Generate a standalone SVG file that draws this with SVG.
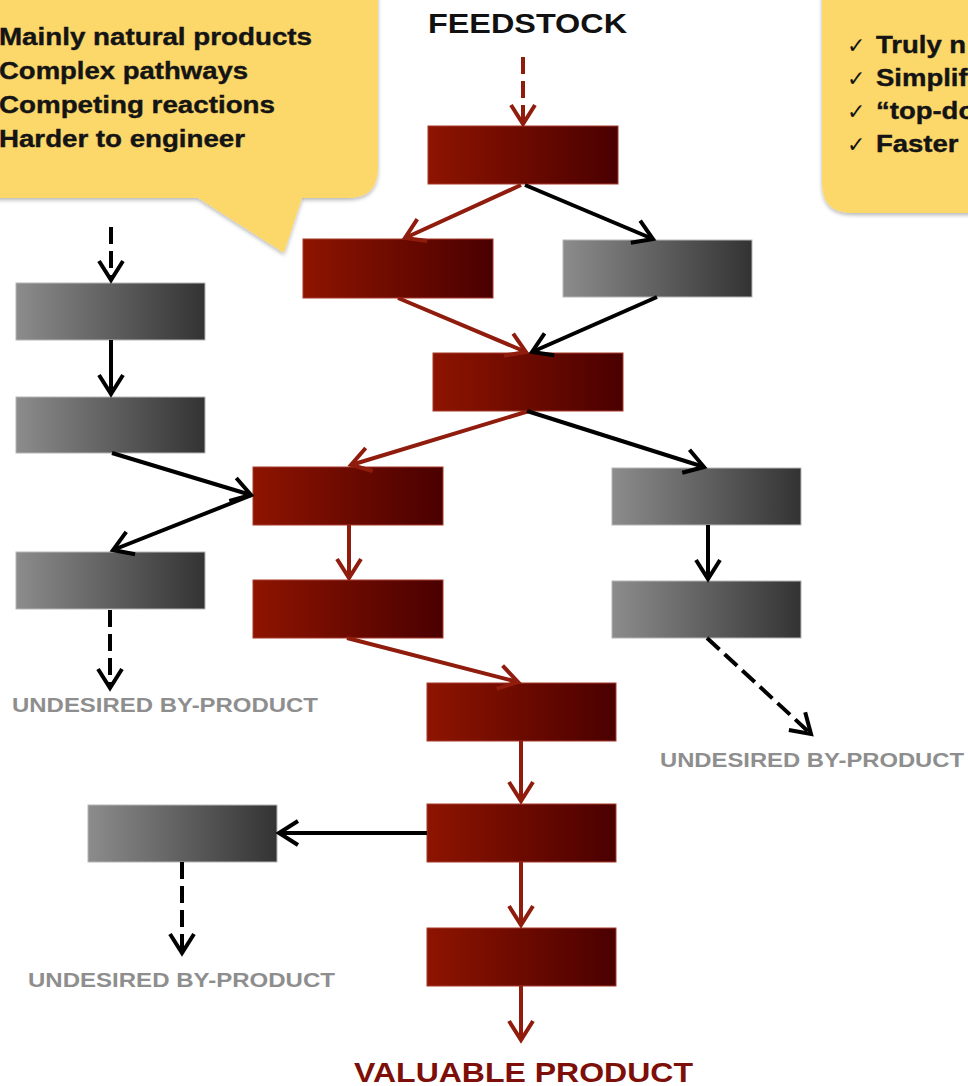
<svg xmlns="http://www.w3.org/2000/svg" width="968" height="1086" viewBox="0 0 968 1086">
<defs>
<linearGradient id="gRed" x1="0" y1="0" x2="1" y2="0">
<stop offset="0" stop-color="#8e1400"/><stop offset="1" stop-color="#4a0000"/>
</linearGradient>
<linearGradient id="gGray" x1="0" y1="0" x2="1" y2="0">
<stop offset="0" stop-color="#8c8c8c"/><stop offset="1" stop-color="#333333"/>
</linearGradient>
<filter id="sh" x="-10%" y="-10%" width="120%" height="130%">
<feGaussianBlur in="SourceAlpha" stdDeviation="2"/>
<feOffset dx="0" dy="2" result="b"/>
<feComponentTransfer><feFuncA type="linear" slope="0.3"/></feComponentTransfer>
<feMerge><feMergeNode/><feMergeNode in="SourceGraphic"/></feMerge>
</filter>
<marker id="aR" markerUnits="userSpaceOnUse" markerWidth="40" markerHeight="40" viewBox="-20 -20 40 40" refX="0" refY="0" orient="auto" overflow="visible">
<path d="M-19,-12 L0,0 L-19,12" fill="none" stroke="#8f1c0c" stroke-width="4"/>
</marker>
<marker id="aK" markerUnits="userSpaceOnUse" markerWidth="40" markerHeight="40" viewBox="-20 -20 40 40" refX="0" refY="0" orient="auto" overflow="visible">
<path d="M-19,-12 L0,0 L-19,12" fill="none" stroke="#000" stroke-width="4"/>
</marker>
</defs>
<style>
.red{fill:url(#gRed);stroke:#a63a2a;stroke-width:1}
.gray{fill:url(#gGray);stroke:#b5b5b5;stroke-width:1}
.cr{fill:none;stroke:#8f1c0c;stroke-width:4;marker-end:url(#aR)}
.ck{fill:none;stroke:#000;stroke-width:4;marker-end:url(#aK)}
.dash{stroke-dasharray:17 7}
.call{fill:#fcd76b;filter:url(#sh)}
.ct{font-family:"Liberation Sans",Arial,sans-serif;font-weight:bold;font-size:23.5px;fill:#141414;stroke:#141414;stroke-width:0.4}
.chk{font-family:"DejaVu Sans",sans-serif;font-size:22px;fill:#141414}
.lab{font-family:"Liberation Sans",Arial,sans-serif;font-weight:bold;font-size:20px;fill:#8e8e8e}
.big{font-family:"Liberation Sans",Arial,sans-serif;font-weight:bold;font-size:28px}
</style>
<rect width="968" height="1086" fill="#ffffff"/>

<g id="callout-left">
<path class="call" d="M-30,-30 H378 V168 Q378,198 348,198 H302 L284,253 L198,198 H-30 Z"/>
<text class="ct" x="-1" y="45" textLength="313" lengthAdjust="spacingAndGlyphs">Mainly natural products</text>
<text class="ct" x="-1" y="79" textLength="249" lengthAdjust="spacingAndGlyphs">Complex pathways</text>
<text class="ct" x="-1" y="113" textLength="276" lengthAdjust="spacingAndGlyphs">Competing reactions</text>
<text class="ct" x="-1" y="147" textLength="246" lengthAdjust="spacingAndGlyphs">Harder to engineer</text>
</g>

<g id="callout-right">
<path class="call" d="M822,-30 H1000 V213 H852 Q822,213 822,183 Z"/>
<text class="chk" x="847" y="53">✓</text>
<text class="ct" transform="translate(876,53) scale(1.17,1)">Truly n</text>
<text class="chk" x="847" y="86">✓</text>
<text class="ct" transform="translate(876,86) scale(1.17,1)">Simplif</text>
<text class="chk" x="847" y="119">✓</text>
<text class="ct" transform="translate(876,119) scale(1.17,1)">“top-do</text>
<text class="chk" x="847" y="152">✓</text>
<text class="ct" transform="translate(876,152) scale(1.17,1)">Faster</text>
</g>

<g id="label-feedstock">
<text class="big" x="428" y="33" textLength="199" lengthAdjust="spacingAndGlyphs" fill="#111">FEEDSTOCK</text>
</g>
<g id="label-valuable">
<text class="big" x="354" y="1082" textLength="339" lengthAdjust="spacingAndGlyphs" fill="#7d0f08">VALUABLE PRODUCT</text>
</g>
<g id="label-undesired-1">
<text class="lab" x="12" y="712" textLength="306" lengthAdjust="spacingAndGlyphs">UNDESIRED BY-PRODUCT</text>
</g>
<g id="label-undesired-2">
<text class="lab" x="660" y="767" textLength="304" lengthAdjust="spacingAndGlyphs">UNDESIRED BY-PRODUCT</text>
</g>
<g id="label-undesired-3">
<text class="lab" x="28" y="987" textLength="307" lengthAdjust="spacingAndGlyphs">UNDESIRED BY-PRODUCT</text>
</g>

<g id="r1"><rect class="red" x="428" y="126" width="190" height="58"/></g>
<g id="r2"><rect class="red" x="303" y="239" width="190" height="59"/></g>
<g id="g1"><rect class="gray" x="563" y="240" width="189" height="57"/></g>
<g id="r3"><rect class="red" x="433" y="353" width="190" height="58"/></g>
<g id="g2"><rect class="gray" x="16" y="283" width="189" height="57"/></g>
<g id="g3"><rect class="gray" x="16" y="397" width="189" height="56"/></g>
<g id="r4"><rect class="red" x="253" y="467" width="190" height="58"/></g>
<g id="g5"><rect class="gray" x="612" y="468" width="189" height="57"/></g>
<g id="g4"><rect class="gray" x="16" y="552" width="189" height="57"/></g>
<g id="r5"><rect class="red" x="253" y="580" width="190" height="58"/></g>
<g id="g6"><rect class="gray" x="612" y="581" width="189" height="57"/></g>
<g id="r6"><rect class="red" x="427" y="683" width="189" height="58"/></g>
<g id="r7"><rect class="red" x="427" y="804" width="189" height="58"/></g>
<g id="g7"><rect class="gray" x="88" y="805" width="189" height="57"/></g>
<g id="r8"><rect class="red" x="427" y="928" width="189" height="58"/></g>

<g id="connectors">
<path class="cr dash" d="M523,57 V124"/>
<path class="cr" d="M521,185 L405,238"/>
<path class="ck" d="M525,185 L653,239"/>
<path class="cr" d="M398,298 L526,352"/>
<path class="ck" d="M657,297 L532,352"/>
<path class="cr" d="M529,411 L351,465"/>
<path class="ck" d="M527,411 L704,467"/>
<path class="ck dash" d="M111,227 V280"/>
<path class="ck" d="M111,340 V394"/>
<path class="ck" d="M112,453 L251,495"/>
<path class="ck" d="M252,495 L113,550"/>
<path class="cr" d="M349,525 V578"/>
<path class="ck dash" d="M110,610 V688"/>
<path class="ck" d="M708,525 V579"/>
<path class="ck dash" d="M707,638 L811,734"/>
<path class="cr" d="M347,638 L518,682"/>
<path class="cr" d="M521,741 V801"/>
<path class="ck" d="M427,833 H279"/>
<path class="ck dash" d="M182,862 V953"/>
<path class="cr" d="M521,862 V925"/>
<path class="cr" d="M521,986 V1040"/>
</g>
</svg>
